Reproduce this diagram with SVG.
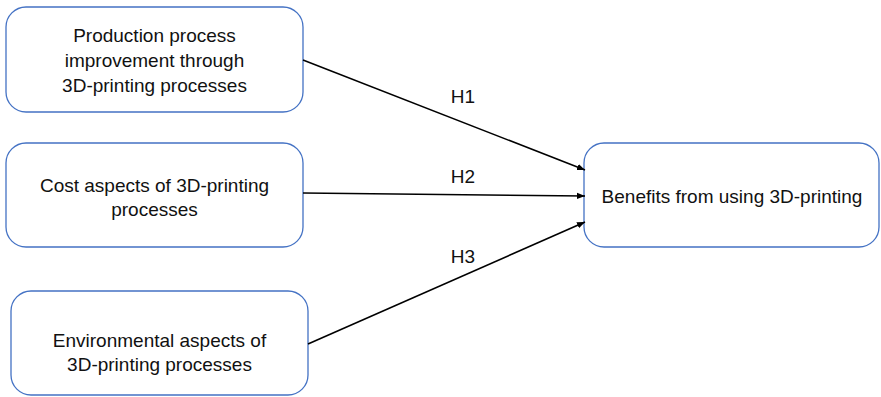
<svg xmlns="http://www.w3.org/2000/svg" width="881" height="397" viewBox="0 0 881 397">
<style>
.box{fill:#fff;stroke:#4472C4;stroke-width:1.3}
.t{font-family:"Liberation Sans",Arial,sans-serif;font-size:19px;fill:#111;text-anchor:middle}
.c{stroke:#000;stroke-width:1.6;fill:none;marker-end:url(#ah)}
</style>
<defs>
<marker id="ah" viewBox="0 0 10 10" refX="10" refY="5" markerWidth="5" markerHeight="5" orient="auto" markerUnits="strokeWidth">
<path d="M0,1 L10,5 L0,9 Z" fill="#000"/>
</marker>
</defs>
<rect width="881" height="397" fill="#fff"/>
<g id="n1">
<rect class="box" x="6" y="7" width="297" height="105" rx="20"/>
<text class="t" x="154.5" y="42">Production process</text>
<text class="t" x="154.5" y="67">improvement through</text>
<text class="t" x="154.5" y="92">3D-printing processes</text>
</g>
<g id="n2">
<rect class="box" x="6" y="143" width="297" height="104" rx="20"/>
<text class="t" x="154.5" y="192">Cost aspects of 3D-printing</text>
<text class="t" x="154.5" y="216">processes</text>
</g>
<g id="n3">
<rect class="box" x="11" y="291" width="297" height="104" rx="20"/>
<text class="t" x="159.5" y="347">Environmental aspects of</text>
<text class="t" x="159.5" y="371">3D-printing processes</text>
</g>
<g id="n4">
<rect class="box" x="584" y="143" width="295" height="104" rx="20"/>
<text class="t" x="732" y="203">Benefits from using 3D-printing</text>
</g>
<g id="connectors">
<line class="c" x1="303" y1="60" x2="585" y2="170"/>
<line class="c" x1="303" y1="193" x2="585" y2="196"/>
<line class="c" x1="308" y1="344" x2="585" y2="222"/>
<text class="t" x="463" y="103">H1</text>
<text class="t" x="463" y="183">H2</text>
<text class="t" x="463" y="263">H3</text>
</g>
</svg>
